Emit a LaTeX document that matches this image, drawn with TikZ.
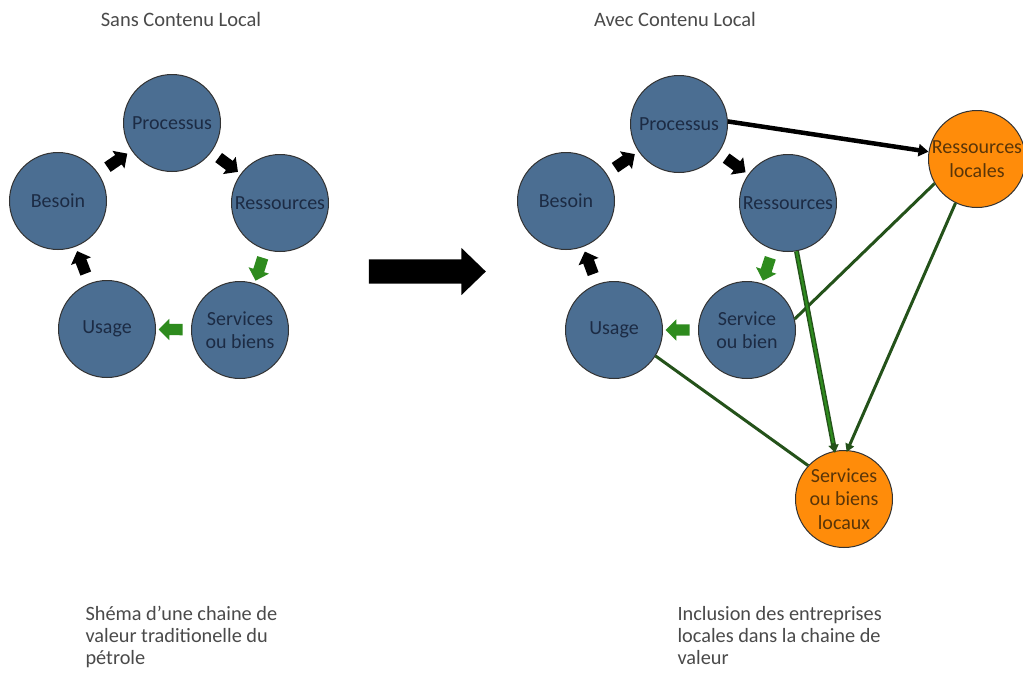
\documentclass[tikz,border=0pt]{standalone}
\usepackage{fontspec}
\setmainfont{Carlito}
\usetikzlibrary{shapes.arrows,arrows.meta,calc}
\definecolor{cblue}{HTML}{4B6E92}
\definecolor{cnavy}{HTML}{1C2B44}
\definecolor{corange}{HTML}{FF8C0A}
\definecolor{cbrown}{HTML}{5A3508}
\definecolor{cgreen}{HTML}{24521A}
\definecolor{cgreenl}{HTML}{2E8B1E}
\definecolor{ctext}{HTML}{4A4A4A}
\tikzset{
  bluecirc/.style={circle, draw=black!80, line width=1pt, fill=cblue, text=cnavy,
    minimum size=97pt, inner sep=0pt, align=center,
    font=\fontsize{20}{23.5}\selectfont},
  orcirc/.style={bluecirc, fill=corange, text=cbrown},
  smallarr/.style={single arrow, draw=none, fill=#1, minimum height=24pt,
    inner sep=5.5pt, single arrow head extend=5pt, sloped, allow upside down},
  bigarr/.style={single arrow, draw=none, fill=black, minimum height=117pt,
    inner sep=12pt, single arrow head extend=11.5pt, single arrow tip angle=88},
  title/.style={text=ctext, font=\fontsize{20.5}{22}\selectfont},
  caption/.style={text=ctext, font=\fontsize{20.3}{22}\selectfont, align=left, anchor=north west},
  greenline/.style={draw=cgreen, line width=3pt},
}
\begin{document}
\begin{tikzpicture}[x=1pt,y=-1pt]
\useasboundingbox (0,0) rectangle (1023,675);
\fill[white] (0,0) rectangle (1023,675);

% titles
\node[title] (t1) at (181,19) {Sans Contenu Local};
\node[title] (t2) at (675,19) {Avec Contenu Local};

% left cycle
\node[bluecirc] (P1) at (172,123) {Processus};
\node[bluecirc] (B1) at (58,201) {Besoin};
\node[bluecirc] (R1) at (280,203) {Ressources};
\node[bluecirc] (U1) at (107,329) {Usage};
\node[bluecirc] (S1) at (240,330) {Services\\ou biens};

\path (B1) -- node[smallarr=black] (a1) {} (P1);
\path (P1) -- node[smallarr=black] (a2) {} (R1);
\path (R1) -- node[smallarr=cgreenl] (a3) {} (S1);
\path (S1) -- node[smallarr=cgreenl] (a4) {} (U1);
\path (U1) -- node[smallarr=black] (a5) {} (B1);

% big arrow
\node[bigarr] (big) at (421,271.5) {};

% right cycle
\node[bluecirc] (P2) at (679,124) {Processus};
\node[bluecirc] (B2) at (566,201) {Besoin};
\node[bluecirc] (R2) at (788,203) {Ressources};
\node[bluecirc] (U2) at (614,330) {Usage};
\node[bluecirc] (S2) at (747,330) {Service\\ou bien};
\node[orcirc] (RL) at (977,159) {Ressources\\locales};
\node[orcirc, inner sep=-3pt] (SL) at (844,499) {Services\\ou biens\\locaux};

\path (B2) -- node[smallarr=black] (b1) {} (P2);
\path (P2) -- node[smallarr=black] (b2) {} (R2);
\path (R2) -- node[smallarr=cgreenl] (b3) {} (S2);
\path (S2) -- node[smallarr=cgreenl] (b4) {} (U2);
\path (U2) -- node[smallarr=black] (b5) {} (B2);

% connectors
\draw[line width=4.5pt, -{Triangle[length=10pt,width=12pt]}] (P2.3) -- (RL);
\draw[greenline] (RL.210) -- (S2.13);
\draw[draw=cgreenl, line width=2.2pt, shorten >=8pt,
      preaction={draw=cgreen, line width=5pt, -{Triangle[length=8pt,width=10pt]}, shorten >=-2pt}]
      (R2.-80) -- (SL.101);
\draw[greenline, -{Triangle[length=8pt,width=9pt]}, shorten >=-2pt] (RL.244) -- (SL.86);
\draw[greenline] (U2.-32) -- (SL.137);

% captions
\node[caption] (c1) at (82,603) {Shéma d’une chaine de\\valeur traditionelle du\\pétrole};
\node[caption] (c2) at (674,603) {Inclusion des entreprises\\locales dans la chaine de\\valeur};
\end{tikzpicture}
\end{document}
